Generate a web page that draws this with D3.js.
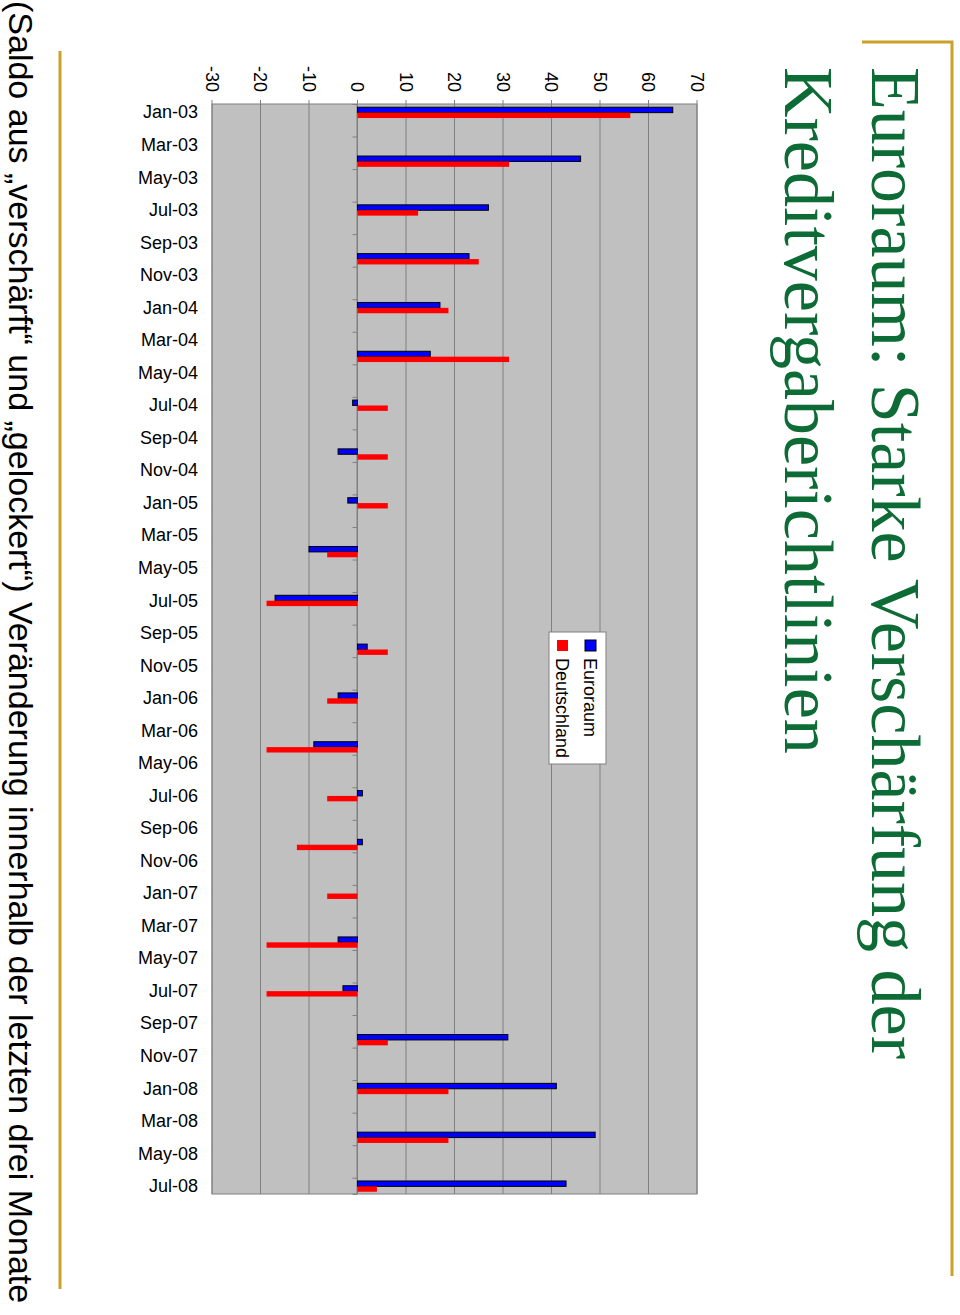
<!DOCTYPE html>
<html>
<head>
<meta charset="utf-8">
<script src="https://cdn.jsdelivr.net/npm/d3@7"></script>
<style>
  html, body { margin: 0; padding: 0; background: #fff; }
  svg { display: block; }
</style>
</head>
<body>
<div id="chart"></div>
<script>
// ---- data ----
const quarters = ["Jan-03","Apr-03","Jul-03","Oct-03","Jan-04","Apr-04","Jul-04","Oct-04",
  "Jan-05","Apr-05","Jul-05","Oct-05","Jan-06","Apr-06","Jul-06","Oct-06",
  "Jan-07","Apr-07","Jul-07","Oct-07","Jan-08","Apr-08","Jul-08"];
const euroraum = [65, 46, 27, 23, 17, 15, -1, -4, -2, -10, -17, 2, -4, -9, 1, 1, 0, -4, -3, 31, 41, 49, 43];
const deutschland = [56.25, 31.25, 12.5, 25, 18.75, 31.25, 6.25, 6.25, 6.25, -6.25, -18.75, 6.25,
  -6.25, -18.75, -6.25, -12.5, -6.25, -18.75, -18.75, 6.25, 18.75, 18.75, 4];
const tickLabels = ["Jan-03","Mar-03","May-03","Jul-03","Sep-03","Nov-03",
  "Jan-04","Mar-04","May-04","Jul-04","Sep-04","Nov-04",
  "Jan-05","Mar-05","May-05","Jul-05","Sep-05","Nov-05",
  "Jan-06","Mar-06","May-06","Jul-06","Sep-06","Nov-06",
  "Jan-07","Mar-07","May-07","Jul-07","Sep-07","Nov-07",
  "Jan-08","Mar-08","May-08","Jul-08"];
const valueTicks = [-30, -20, -10, 0, 10, 20, 30, 40, 50, 60, 70];
const seriesNames = ["Euroraum", "Deutschland"];
const seriesColors = ["#0000ff", "#ff0000"];
const titleLines = ["Euroraum: Starke Verschärfung der", "Kreditvergaberichtlinien"];
const subtitle = "(Saldo aus \u201Everschärft\u201C und \u201Egelockert\u201C) Veränderung innerhalb der letzten drei Monate";

// ---- helpers ----
const monNames = ["Jan","Feb","Mar","Apr","May","Jun","Jul","Aug","Sep","Oct","Nov","Dec"];
const monthIndex = s => (parseInt(s.slice(4), 10) - 3) * 12 + monNames.indexOf(s.slice(0, 3));

// ---- page (landscape slide rotated 90° clockwise) ----
const W = 960, H = 1315;
const svg = d3.select("#chart").append("svg").attr("width", W).attr("height", H);
const g = svg.append("g").attr("transform", `translate(${W},0) rotate(90)`);
// landscape coordinates: X in [0,1315], Y in [0,960]

const plot = { x0: 104, x1: 1194, y0: 263, y1: 748 };
const x = d3.scaleLinear().domain([0, 67]).range([plot.x0, plot.x1]);
const y = d3.scaleLinear().domain([-30, 70]).range([plot.y1, plot.y0]);

// gold decorations
const gold = "#c9a227";
g.append("path").attr("d", `M42,98 L42,8 L1276,8`).attr("fill", "none")
  .attr("stroke", gold).attr("stroke-width", 3);
g.append("line").attr("x1", 51).attr("x2", 1289).attr("y1", 900).attr("y2", 900)
  .attr("stroke", gold).attr("stroke-width", 3);

// title
g.append("g").selectAll("text").data(titleLines).join("text")
  .attr("x", 67).attr("y", (d, i) => 88 + i * 87)
  .attr("font-family", "'Liberation Serif', 'Times New Roman', serif")
  .attr("font-size", 70).attr("fill", "#0d6b35").text(d => d);

// subtitle
g.append("text").attr("x", 1).attr("y", 951)
  .attr("font-family", "'Liberation Sans', Arial, sans-serif")
  .attr("font-size", 34).attr("fill", "#000").text(subtitle);

// plot area
g.append("rect").attr("x", plot.x0).attr("y", plot.y0)
  .attr("width", plot.x1 - plot.x0).attr("height", plot.y1 - plot.y0)
  .attr("fill", "#c0c0c0").attr("stroke", "#808080").attr("stroke-width", 1);

// gridlines
g.append("g").selectAll("line").data(valueTicks).join("line")
  .attr("x1", plot.x0 - 4).attr("x2", plot.x1)
  .attr("y1", d => y(d)).attr("y2", d => y(d))
  .attr("stroke", "#808080").attr("stroke-width", 1);

// value axis labels
const vAxis = g.append("g").attr("transform", `translate(${plot.x0},0)`)
  .call(d3.axisLeft(y).tickValues(valueTicks).tickSize(0).tickPadding(12).tickFormat(d => String(d)));
vAxis.select(".domain").remove();
vAxis.selectAll("text").attr("font-family", "'Liberation Sans', Arial, sans-serif")
  .attr("font-size", 18).attr("fill", "#000");

// category axis at zero
const tickMonths = tickLabels.map(monthIndex);
const cAxis = g.append("g").attr("transform", `translate(0,${y(0)})`)
  .call(d3.axisBottom(x).tickValues(tickMonths).tickSize(5).tickFormat(""));
cAxis.select(".domain").attr("stroke", "#808080");
cAxis.selectAll(".tick line").attr("stroke", "#808080");

// category labels (rotated), below plot
g.append("g").selectAll("text").data(tickLabels).join("text")
  .attr("transform", d => `translate(${x(monthIndex(d) + 0.5)},${plot.y1 + 14}) rotate(-90)`)
  .attr("text-anchor", "end").attr("dy", "0.35em")
  .attr("font-family", "'Liberation Sans', Arial, sans-serif")
  .attr("font-size", 18).attr("fill", "#000").text(d => d);

// bars
const barW = 5.4;
const data = quarters.map((q, i) => ({ q, m: monthIndex(q), vals: [euroraum[i], deutschland[i]] }));
const bars = g.append("g");
seriesNames.forEach((name, s) => {
  bars.selectAll(`rect.s${s}`).data(data).join("rect").attr("class", `s${s}`)
    .attr("x", d => x(d.m + 0.5) - barW + s * barW + 0.5)
    .attr("width", barW)
    .attr("y", d => Math.min(y(d.vals[s]), y(0)))
    .attr("height", d => Math.abs(y(d.vals[s]) - y(0)))
    .attr("fill", seriesColors[s])
    .attr("stroke", s === 0 ? "#000" : "none")
    .attr("stroke-width", s === 0 ? 1 : 0);
});

// legend
const leg = g.append("g").attr("transform", "translate(632,354)");
leg.append("rect").attr("width", 132).attr("height", 57).attr("fill", "#fff")
  .attr("stroke", "#808080").attr("stroke-width", 1);
seriesNames.forEach((name, s) => {
  leg.append("rect").attr("x", 8).attr("y", 10 + s * 28).attr("width", 11).attr("height", 11)
    .attr("fill", seriesColors[s]).attr("stroke", s === 0 ? "#000" : "none");
  leg.append("text").attr("x", 26).attr("y", 16 + s * 28).attr("dy", "0.35em")
    .attr("font-family", "'Liberation Sans', Arial, sans-serif")
    .attr("font-size", 18).attr("fill", "#000").text(name);
});
</script>
</body>
</html>
